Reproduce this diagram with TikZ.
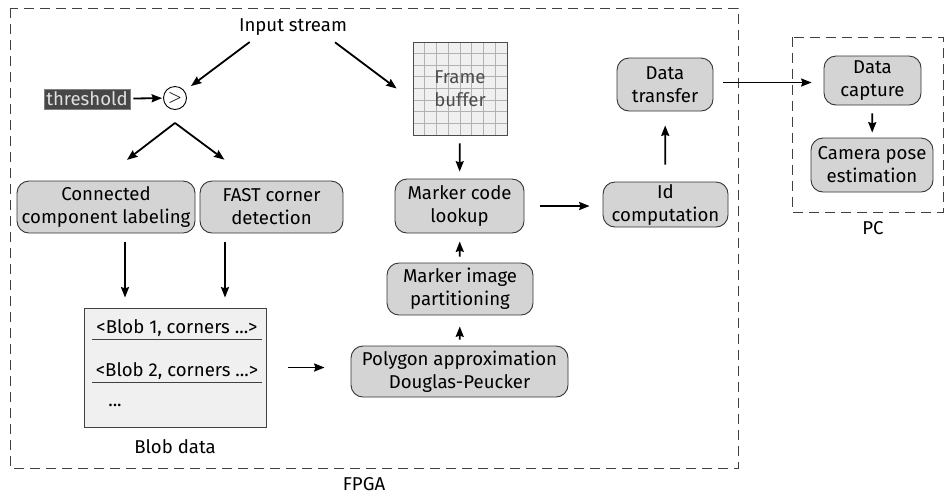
\documentclass[tikz,border=0pt]{standalone}
\usepackage{fontspec}
\setmainfont{Fira Sans}
\usetikzlibrary{arrows.meta,calc}

\begin{document}
\begin{tikzpicture}[
x=0.5pt, y=-0.5pt,
every node/.style={font=\fontsize{9.3}{11.5}\selectfont},
stagenode/.style={draw=black!80, fill=black!17, rounded corners=6pt, align=center, inner sep=1pt, line width=0.45pt},
regionbox/.style={draw=black!75, dash pattern=on 5pt off 3pt, line width=0.5pt},
flow/.style={-{Stealth[length=5.2pt,width=4pt,inset=0.6pt]}, line width=0.9pt},
blobrow/.style={minimum width=84.5pt, minimum height=11pt, inner sep=0pt},
framebuffer/.style={draw=black!70, fill=black!6, minimum width=47pt, minimum height=46.5pt, inner sep=0pt,
  align=center, text=black!70,
  path picture={
    \foreach \k in {1,...,7}{
      \draw[black!30, line width=0.5pt]
        ($(path picture bounding box.north west)!\k/8!(path picture bounding box.north east)$) --
        ($(path picture bounding box.south west)!\k/8!(path picture bounding box.south east)$);
      \draw[black!30, line width=0.5pt]
        ($(path picture bounding box.north west)!\k/8!(path picture bounding box.south west)$) --
        ($(path picture bounding box.north east)!\k/8!(path picture bounding box.south east)$);
    }}},
]
\useasboundingbox (0,0) rectangle (945,495);

% FPGA and PC regions
\draw[regionbox] (10,8) rectangle (738,468);
\draw[regionbox] (792,37) rectangle (943,212);
\node (fpga) at (364,484) {FPGA};
\node (pc) at (873,228) {PC};

% Defining the nodes
\node[inner sep=0pt] (input) at (293,27) {Input stream};
\node[fill=black!72, draw=black!50, text=white!88!black, minimum width=43pt, minimum height=10pt, inner sep=0pt] (thresh) at (87,99) {threshold};
\node[circle, draw=black, line width=0.45pt, minimum size=11.5pt, inner sep=0pt] (cmp) at (175,98) {$>$};
\coordinate (fork) at ([yshift=-6.5pt]cmp.south);

\node[stagenode, minimum width=89pt, minimum height=26pt] (ccl) at (106,207) {Connected\\component labeling};
\node[stagenode, minimum width=71.5pt, minimum height=26pt] (fast) at (271.5,207) {FAST corner\\detection};

\node[framebuffer] (frame) at (460,88.5) {Frame\\buffer};
\node[stagenode, minimum width=64.5pt, minimum height=27pt] (lookup) at (459.5,206) {Marker code\\lookup};
\node[stagenode, minimum width=73pt, minimum height=26pt] (part) at (460,289) {Marker image\\partitioning};
\node[stagenode, minimum width=108.5pt, minimum height=25.5pt] (poly) at (459.5,371.5) {Polygon approximation\\Douglas-Peucker};

\node[stagenode, minimum width=62.5pt, minimum height=22.5pt] (idcomp) at (665.5,204.5) {Id\\computation};
\node[stagenode, minimum width=48pt, minimum height=26.5pt] (transfer) at (665,84.5) {Data\\transfer};

\node[stagenode, minimum width=48.5pt, minimum height=24.5pt] (capture) at (872.5,80.5) {Data\\capture};
\node[stagenode, minimum width=61pt, minimum height=27pt] (camera) at (872,165) {Camera pose\\estimation};

% Blob data table
\node[draw=black!75, fill=black!6, minimum width=91pt, minimum height=59.5pt, line width=0.5pt] (blob) at (175,367.5) {};
\node[blobrow] (b1) at (177,328) {<Blob 1, corners ...>};
\node[blobrow] (b2) at (177,371) {<Blob 2, corners ...>};
\node (bdots) at (115,405) {...};
\draw[black!75, line width=0.5pt] (b1.south west) -- (b1.south east);
\draw[black!75, line width=0.5pt] (b2.south west) -- (b2.south east);
\node (blobdata) at (175,447) {Blob data};

% Input and threshold
\draw[flow, shorten <=5.2pt, shorten >=4pt] ([xshift=-17.5pt]input.south) -- (cmp);
\draw[flow, shorten <=5.4pt, shorten >=10pt] ([xshift=16.7pt]input.south) -- ([yshift=-6pt]frame.west);
\draw[flow, shorten <=1.5pt, shorten >=0.5pt] (thresh) -- (cmp);

% Split to the two detectors
\draw[flow, shorten >=17pt] (fork) -- ([xshift=-3pt]ccl.north);
\draw[flow, shorten >=17.5pt] (fork) -- ([xshift=-9.5pt]fast.north);

% Detectors to blob data
\draw[flow, shorten <=4.5pt, shorten >=5pt] ([xshift=9.5pt]ccl.south) -- ([xshift=9.5pt]ccl.south |- blob.north);
\draw[flow, shorten <=4.5pt, shorten >=5pt] ([xshift=-23.25pt]fast.south) -- ([xshift=-23.25pt]fast.south |- blob.north);

% Marker pipeline
\draw[flow, shorten <=10.5pt, shorten >=13pt] (blob.east) -- (blob.east -| poly.west);
\draw[flow, shorten <=3pt, shorten >=5.5pt] (poly) -- (part);
\draw[flow, shorten <=3pt, shorten >=4pt] (part) -- (lookup);
\draw[flow, shorten <=4pt, shorten >=3.5pt] (frame) -- (lookup);
\draw[flow, shorten <=8pt, shorten >=6.5pt] (lookup.east) -- (lookup.east -| idcomp.west);
\draw[flow, shorten <=8.5pt, shorten >=7pt] (idcomp) -- (transfer);

% FPGA to PC
\draw[flow, shorten <=5pt, shorten >=6pt] ([yshift=1pt]transfer.east) -- ([yshift=1pt]transfer.east -| capture.west);
\draw[flow, shorten <=4pt, shorten >=2.5pt] (capture) -- (camera);

\end{tikzpicture}
\end{document}
